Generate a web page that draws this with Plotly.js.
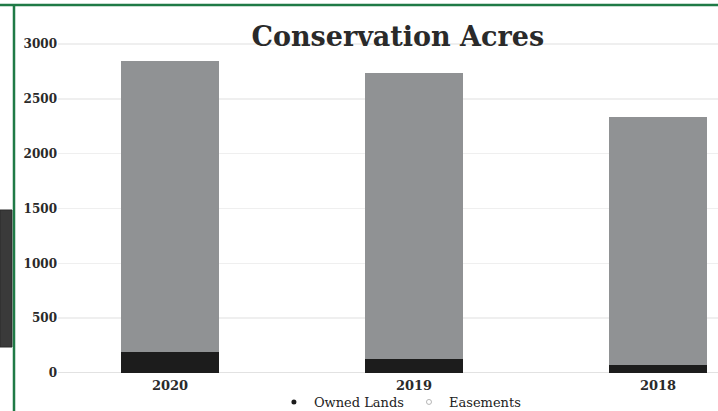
<!DOCTYPE html>
<html>
<head>
<meta charset="utf-8">
<script src="https://cdn.plot.ly/plotly-3.0.1.min.js"></script>
<style>html,body{margin:0;padding:0;background:#fff;}#chart{width:718px;height:411px;}</style>
</head>
<body>
<div id="chart"></div>
<script>
var years = ["2020", "2019", "2018"];
var ownedLands = [190, 130, 75];
var easements = [2655, 2605, 2255];
var yTicks = [0, 500, 1000, 1500, 2000, 2500, 3000];

var serif = "DejaVu Serif, Liberation Serif, serif";

var traces = [
  {type: "bar", x: years, y: ownedLands, name: "Owned Lands", width: 0.4,
   marker: {color: "#1c1c1c"}, showlegend: false, hoverinfo: "y"},
  {type: "bar", x: years, y: easements, name: "Easements", width: 0.4,
   marker: {color: "#909294"}, showlegend: false, hoverinfo: "y"},
  {type: "scatter", mode: "markers", x: [null], y: [null], name: "Owned Lands",
   marker: {color: "#1c1c1c", size: 5, symbol: "circle"}},
  {type: "scatter", mode: "markers", x: [null], y: [null], name: "Easements",
   marker: {color: "#b5b5b5", size: 5, symbol: "circle-open", line: {width: 1, color: "#888"}}}
];

var layout = {
  width: 718, height: 411,
  margin: {l: 58, r: 0, t: 20, b: 31},
  paper_bgcolor: "#ffffff",
  plot_bgcolor: "#ffffff",
  barmode: "stack",
  showlegend: true,
  title: {
    text: "<b>Conservation Acres</b>",
    font: {family: serif, size: 27, color: "#2a2a2a"},
    xref: "container", yref: "container",
    x: 0.554, xanchor: "center",
    y: 1 - 37/411, yanchor: "middle"
  },
  xaxis: {
    type: "category",
    range: [-0.459, 2.246],
    showgrid: false, zeroline: false, showline: false,
    ticks: "",
    ticklabelstandoff: -4,
    tickfont: {family: serif, size: 13, color: "#2a2a2a", weight: "bold"}
  },
  yaxis: {
    range: [-64, 3219],
    tickvals: yTicks,
    ticktext: yTicks.map(String),
    showgrid: true, gridcolor: "#efefef", gridwidth: 1.5,
    zeroline: true, zerolinecolor: "#e2e2e2", zerolinewidth: 1,
    showline: false, ticks: "",
    tickfont: {family: serif, size: 12, color: "#2a2a2a", weight: "bold"}
  },
  legend: {
    orientation: "h",
    traceorder: "normal",
    xref: "container", yref: "container",
    x: 0.557, xanchor: "center",
    y: 1 - 387/411, yanchor: "top",
    font: {family: serif, size: 13, color: "#222"},
    itemwidth: 30,
    bgcolor: "rgba(0,0,0,0)"
  },
  shapes: [
    {type: "rect", xref: "paper", yref: "paper", x0: -58/660, x1: -46/660,
     y0: (380-347)/360, y1: (380-210)/360,
     fillcolor: "#3a3a3a", line: {color: "#2a2a2a", width: 1}}
  ]
};

Plotly.newPlot("chart", traces, layout, {displayModeBar: false, staticPlot: true}).then(function(){
  var svg = document.querySelector("#chart .main-svg:last-of-type");
  var ns = "http://www.w3.org/2000/svg";
  function ln(x1,y1,x2,y2){
    var l = document.createElementNS(ns, "line");
    l.setAttribute("x1",x1);l.setAttribute("y1",y1);l.setAttribute("x2",x2);l.setAttribute("y2",y2);
    l.setAttribute("stroke","#1f7a46");l.setAttribute("stroke-width","2.5");
    svg.appendChild(l);
  }
  ln(0,5,718,5);
  ln(14,5,14,411);
});
</script>
</body>
</html>
